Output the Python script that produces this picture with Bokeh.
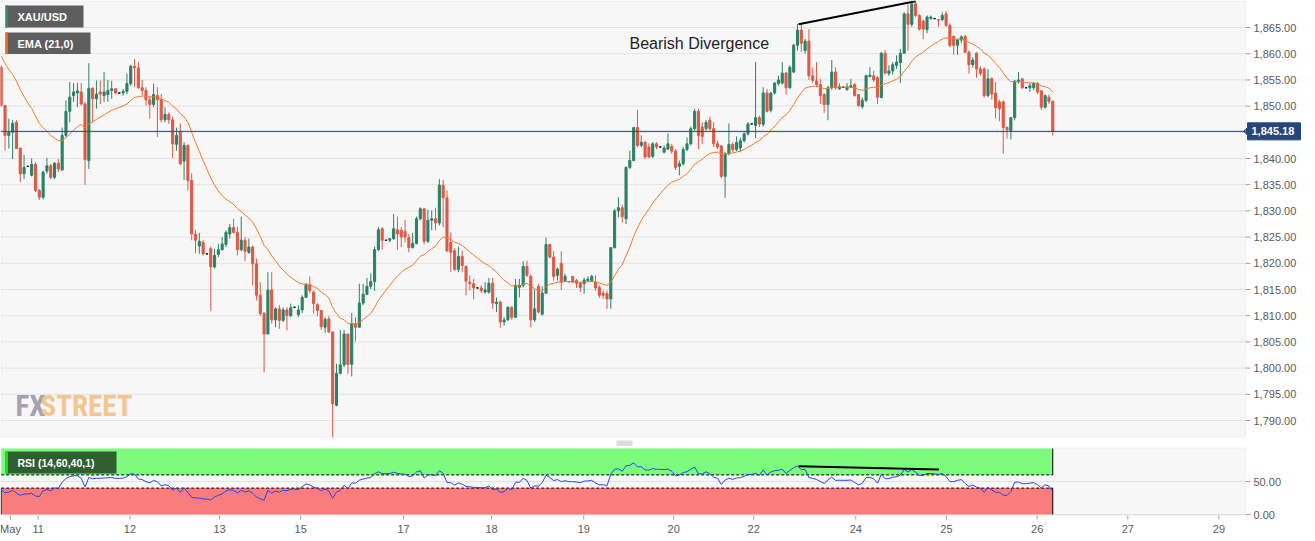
import numpy as np
from bokeh.plotting import figure
from bokeh.layouts import column
from bokeh.models import Range1d, Label, BoxAnnotation, ColumnDataSource
from bokeh.core.properties import value
from bokeh.embed import file_html
from bokeh.resources import INLINE

# ---------------- data (hourly XAU/USD candles) ----------------
opens = [
    1857.4, 1850.1, 1844.4, 1845.0, 1846.9, 1842.0, 1837.1, 1838.5, 1836.8, 1838.9,
    1833.9, 1832.6, 1837.6, 1838.6, 1836.4, 1839.1, 1837.8, 1844.4, 1849.0, 1852.0,
    1852.5, 1852.7, 1850.4, 1839.6, 1853.4, 1851.4, 1852.7, 1852.0, 1852.2, 1853.0,
    1853.3, 1852.5, 1852.5, 1852.8, 1854.3, 1857.6, 1857.3, 1853.5, 1853.0, 1851.2,
    1850.3, 1852.0, 1851.2, 1847.4, 1848.4, 1847.4, 1842.7, 1845.2, 1839.5, 1842.5,
    1835.8, 1825.6, 1823.3, 1824.0, 1821.8, 1822.8, 1819.3, 1821.7, 1822.6, 1823.6,
    1825.6, 1826.8, 1825.9, 1822.6, 1824.4, 1822.1, 1823.1, 1819.9, 1813.9, 1810.4,
    1806.5, 1814.9, 1809.2, 1811.3, 1809.1, 1811.1, 1810.0, 1811.6, 1810.2, 1811.1,
    1813.5, 1815.9, 1814.5, 1812.1, 1811.0, 1807.8, 1809.4, 1806.9, 1792.9, 1799.0,
    1800.6, 1806.5, 1800.7, 1808.5, 1807.8, 1812.4, 1814.1, 1815.6, 1816.5, 1822.6,
    1826.6, 1824.4, 1824.4, 1824.7, 1826.4, 1826.3, 1826.1, 1824.9, 1823.0, 1823.8,
    1828.5, 1830.4, 1824.2, 1828.2, 1828.5, 1827.7, 1834.9, 1832.5, 1824.0, 1822.4,
    1818.8, 1821.3, 1819.4, 1816.4, 1816.1, 1815.3, 1815.3, 1814.5, 1814.5, 1816.2,
    1812.3, 1812.6, 1808.8, 1809.2, 1811.6, 1809.7, 1815.4, 1815.8, 1819.4, 1817.5,
    1809.2, 1815.6, 1810.3, 1814.3, 1823.6, 1821.2, 1817.7, 1820.0, 1816.7, 1816.5,
    1817.5, 1816.7, 1816.2, 1816.1, 1816.7, 1816.7, 1816.4, 1815.4, 1814.3, 1814.2,
    1813.2, 1823.0, 1830.0, 1830.6, 1828.5, 1838.3, 1839.6, 1845.9, 1842.5, 1843.1,
    1842.2, 1840.4, 1842.8, 1842.2, 1841.2, 1841.8, 1842.3, 1841.4, 1838.5, 1839.0,
    1841.7, 1842.8, 1845.7, 1849.0, 1846.0, 1845.7, 1847.3, 1845.7, 1842.8, 1842.4,
    1836.6, 1840.9, 1842.7, 1841.7, 1842.0, 1843.4, 1844.7, 1846.6, 1846.3, 1847.8,
    1846.5, 1852.5, 1849.2, 1852.5, 1854.3, 1854.4, 1856.3, 1853.5, 1856.5, 1861.6,
    1864.5, 1860.6, 1862.4, 1855.8, 1854.8, 1854.1, 1852.2, 1850.3, 1853.5, 1856.5,
    1853.3, 1853.6, 1853.1, 1853.6, 1854.1, 1852.2, 1849.9, 1851.1, 1855.6, 1855.8,
    1855.4, 1851.6, 1860.1, 1856.2, 1856.7, 1857.8, 1858.3, 1860.1, 1867.6, 1865.6,
    1869.5, 1867.3, 1866.2, 1864.6, 1866.7, 1866.7, 1866.5, 1866.5, 1867.6, 1865.4,
    1863.3, 1861.6, 1862.6, 1863.3, 1860.3, 1857.9, 1860.1, 1857.1, 1857.1, 1852.0,
    1855.2, 1852.5, 1850.8, 1850.8, 1845.9, 1845.3, 1847.8, 1854.6, 1855.2, 1853.5,
    1853.5, 1853.5, 1854.3, 1852.9, 1849.8, 1851.7, 1850.9,
]
highs = [
    1857.8, 1850.2, 1847.6, 1847.3, 1847.3, 1842.0, 1840.7, 1838.6, 1840.0, 1839.3,
    1834.2, 1837.7, 1840.1, 1839.0, 1839.3, 1839.9, 1845.9, 1851.1, 1854.6, 1854.4,
    1854.4, 1854.4, 1850.8, 1858.2, 1853.6, 1854.9, 1854.9, 1856.5, 1855.0, 1854.8,
    1853.4, 1852.6, 1853.3, 1856.2, 1857.9, 1859.0, 1858.4, 1855.0, 1853.6, 1852.0,
    1854.3, 1853.6, 1852.3, 1849.8, 1848.8, 1848.0, 1845.9, 1846.7, 1843.1, 1842.7,
    1837.2, 1826.3, 1825.8, 1824.4, 1821.9, 1823.2, 1822.8, 1823.7, 1825.0, 1826.3,
    1827.5, 1828.5, 1827.0, 1828.9, 1825.0, 1824.7, 1823.4, 1820.9, 1816.4, 1810.7,
    1818.3, 1818.3, 1811.6, 1812.0, 1811.6, 1811.6, 1812.3, 1811.7, 1812.0, 1813.9,
    1816.2, 1817.5, 1814.8, 1812.4, 1811.0, 1809.7, 1809.9, 1806.9, 1800.8, 1807.3,
    1807.3, 1806.5, 1810.5, 1809.7, 1816.1, 1816.1, 1817.2, 1818.1, 1823.2, 1826.9,
    1826.9, 1824.5, 1824.7, 1829.4, 1828.9, 1826.9, 1828.3, 1825.6, 1825.8, 1828.9,
    1830.7, 1830.6, 1830.2, 1830.1, 1830.6, 1836.1, 1835.9, 1833.9, 1825.9, 1822.9,
    1823.2, 1822.4, 1819.6, 1817.7, 1817.0, 1815.4, 1815.8, 1816.4, 1817.2, 1817.2,
    1813.5, 1812.9, 1809.7, 1811.8, 1811.8, 1817.0, 1817.0, 1820.4, 1820.5, 1817.9,
    1815.0, 1816.1, 1815.6, 1824.9, 1823.7, 1822.3, 1819.2, 1822.3, 1818.0, 1816.6,
    1817.6, 1817.0, 1816.4, 1817.3, 1817.5, 1817.8, 1817.7, 1815.8, 1814.8, 1814.8,
    1823.1, 1830.4, 1832.6, 1831.2, 1838.5, 1841.5, 1846.0, 1849.3, 1844.4, 1843.4,
    1842.9, 1843.1, 1843.1, 1842.3, 1842.5, 1844.8, 1842.8, 1841.8, 1839.6, 1842.2,
    1844.0, 1846.1, 1849.5, 1849.5, 1846.9, 1847.3, 1848.0, 1846.9, 1843.4, 1842.5,
    1841.2, 1846.7, 1843.1, 1844.2, 1844.0, 1845.0, 1846.9, 1846.7, 1858.4, 1848.2,
    1853.6, 1853.3, 1852.7, 1854.6, 1855.8, 1858.4, 1856.5, 1857.8, 1861.9, 1865.7,
    1865.6, 1862.8, 1864.7, 1857.4, 1858.4, 1855.2, 1852.5, 1853.9, 1858.8, 1857.4,
    1854.3, 1853.7, 1854.4, 1855.2, 1854.4, 1852.3, 1851.6, 1856.0, 1857.4, 1856.7,
    1855.7, 1860.3, 1860.7, 1857.8, 1858.4, 1859.7, 1860.9, 1867.9, 1869.4, 1870.1,
    1870.1, 1867.5, 1866.5, 1867.3, 1867.3, 1866.8, 1866.5, 1867.9, 1868.1, 1865.8,
    1863.5, 1862.8, 1863.5, 1863.6, 1860.6, 1859.3, 1860.3, 1857.6, 1857.4, 1857.1,
    1855.5, 1854.6, 1851.2, 1851.1, 1846.1, 1847.9, 1854.9, 1856.5, 1855.4, 1853.6,
    1854.4, 1854.6, 1854.6, 1853.1, 1852.2, 1852.2, 1851.1,
]
lows = [
    1849.9, 1841.5, 1841.9, 1839.9, 1841.8, 1835.5, 1836.1, 1838.4, 1836.6, 1833.6,
    1832.1, 1832.2, 1837.1, 1836.1, 1836.1, 1837.4, 1837.6, 1844.1, 1846.9, 1850.8,
    1849.8, 1850.1, 1835.0, 1838.0, 1846.9, 1849.5, 1850.4, 1850.8, 1850.8, 1851.4,
    1852.3, 1852.4, 1852.0, 1852.3, 1853.9, 1853.6, 1853.3, 1852.0, 1850.1, 1847.6,
    1849.8, 1844.1, 1846.9, 1846.9, 1846.6, 1840.1, 1841.5, 1838.7, 1835.9, 1833.9,
    1824.4, 1821.9, 1821.8, 1821.5, 1821.7, 1810.9, 1819.0, 1821.2, 1822.4, 1823.1,
    1824.7, 1825.7, 1821.5, 1822.3, 1820.4, 1821.8, 1815.8, 1812.9, 1810.0, 1799.2,
    1806.5, 1808.5, 1807.8, 1807.5, 1808.8, 1807.2, 1809.7, 1811.5, 1809.7, 1810.5,
    1813.4, 1814.3, 1810.4, 1809.9, 1807.3, 1806.7, 1806.7, 1786.8, 1792.7, 1798.8,
    1800.2, 1798.9, 1798.4, 1805.1, 1807.8, 1812.0, 1813.9, 1815.1, 1814.7, 1822.4,
    1822.6, 1824.3, 1824.0, 1824.5, 1822.6, 1823.1, 1824.0, 1822.1, 1822.8, 1823.6,
    1828.2, 1823.6, 1823.9, 1826.3, 1826.3, 1827.2, 1826.9, 1822.1, 1818.3, 1818.6,
    1818.3, 1818.3, 1813.9, 1814.8, 1813.1, 1815.2, 1814.3, 1814.2, 1814.2, 1811.3,
    1810.7, 1807.7, 1808.1, 1809.0, 1809.2, 1809.7, 1813.5, 1815.4, 1817.4, 1807.8,
    1808.8, 1810.4, 1810.0, 1814.2, 1820.9, 1816.7, 1816.7, 1814.9, 1816.4, 1816.4,
    1816.2, 1815.3, 1814.5, 1814.2, 1816.4, 1816.4, 1814.8, 1813.4, 1813.2, 1811.3,
    1811.3, 1822.8, 1828.8, 1827.8, 1827.5, 1838.0, 1839.5, 1842.2, 1842.2, 1839.9,
    1840.1, 1840.1, 1841.8, 1842.1, 1841.0, 1841.6, 1840.9, 1837.8, 1836.8, 1838.7,
    1841.4, 1842.5, 1845.3, 1841.8, 1842.8, 1845.3, 1845.3, 1842.2, 1841.8, 1836.2,
    1832.5, 1840.6, 1841.2, 1841.4, 1841.2, 1843.1, 1844.4, 1846.5, 1843.9, 1846.0,
    1846.1, 1848.8, 1848.8, 1852.2, 1853.9, 1854.1, 1852.2, 1853.3, 1856.3, 1860.6,
    1860.3, 1860.0, 1855.0, 1854.4, 1853.6, 1850.4, 1848.7, 1847.3, 1853.1, 1853.1,
    1853.1, 1853.5, 1853.0, 1853.5, 1851.8, 1849.9, 1849.5, 1850.8, 1855.6, 1854.6,
    1850.4, 1851.6, 1856.0, 1855.8, 1856.0, 1857.1, 1854.4, 1860.0, 1860.6, 1865.1,
    1867.0, 1864.4, 1862.8, 1863.9, 1866.5, 1866.6, 1865.1, 1866.2, 1865.1, 1861.2,
    1859.8, 1859.8, 1862.0, 1860.1, 1856.2, 1857.4, 1855.4, 1855.8, 1851.6, 1851.7,
    1851.2, 1847.6, 1847.1, 1840.9, 1843.8, 1843.6, 1847.3, 1854.3, 1853.3, 1853.4,
    1852.7, 1853.0, 1852.3, 1849.3, 1849.5, 1850.4, 1844.4,
]
closes = [
    1850.1, 1844.4, 1845.0, 1846.7, 1841.9, 1837.1, 1838.3, 1838.5, 1838.9, 1833.9,
    1832.6, 1837.4, 1838.6, 1836.4, 1839.1, 1838.0, 1844.4, 1849.0, 1851.7, 1852.7,
    1852.9, 1850.4, 1839.8, 1853.4, 1851.4, 1852.3, 1852.3, 1852.7, 1853.0, 1853.3,
    1852.5, 1852.5, 1852.8, 1854.3, 1857.6, 1857.3, 1853.5, 1853.0, 1851.2, 1850.3,
    1852.2, 1851.2, 1847.4, 1848.4, 1847.4, 1842.8, 1844.4, 1839.0, 1842.5, 1835.8,
    1825.6, 1824.4, 1824.2, 1821.8, 1821.8, 1819.3, 1821.5, 1822.6, 1823.7, 1825.9,
    1826.8, 1825.9, 1822.6, 1824.4, 1822.3, 1823.1, 1819.9, 1813.9, 1810.4, 1806.5,
    1814.9, 1809.2, 1811.3, 1809.1, 1811.1, 1810.0, 1811.5, 1811.6, 1811.1, 1813.5,
    1815.9, 1814.8, 1812.3, 1811.0, 1807.9, 1809.3, 1806.9, 1793.2, 1799.0, 1800.6,
    1806.5, 1800.7, 1808.5, 1807.8, 1812.4, 1814.1, 1815.6, 1816.5, 1822.6, 1826.4,
    1824.4, 1824.4, 1824.7, 1826.6, 1825.6, 1825.0, 1825.0, 1823.0, 1823.8, 1828.5,
    1830.4, 1824.2, 1828.2, 1828.5, 1827.7, 1834.9, 1832.5, 1822.4, 1822.1, 1818.8,
    1821.3, 1819.6, 1816.6, 1816.1, 1815.3, 1815.3, 1814.8, 1814.9, 1816.2, 1812.4,
    1812.6, 1808.8, 1809.2, 1811.6, 1809.7, 1815.8, 1815.8, 1819.4, 1817.7, 1809.2,
    1811.3, 1810.7, 1814.3, 1823.6, 1821.2, 1817.5, 1818.9, 1816.4, 1817.5, 1816.5,
    1816.4, 1816.2, 1815.4, 1816.8, 1817.0, 1817.5, 1815.3, 1813.9, 1813.9, 1813.2,
    1823.0, 1830.0, 1830.6, 1828.9, 1838.3, 1839.6, 1845.9, 1842.5, 1843.1, 1840.3,
    1840.3, 1842.8, 1842.2, 1842.2, 1842.0, 1842.8, 1841.4, 1838.3, 1839.0, 1841.7,
    1842.8, 1845.7, 1849.0, 1844.4, 1844.2, 1846.9, 1845.7, 1842.8, 1842.2, 1836.6,
    1840.9, 1842.7, 1841.7, 1843.1, 1843.4, 1844.7, 1846.6, 1846.6, 1847.8, 1846.6,
    1852.5, 1849.0, 1852.5, 1854.4, 1855.0, 1856.3, 1853.5, 1857.4, 1861.6, 1864.5,
    1862.0, 1862.4, 1855.8, 1854.9, 1854.1, 1852.0, 1850.3, 1853.5, 1856.5, 1853.5,
    1853.7, 1853.6, 1853.6, 1853.9, 1852.0, 1850.1, 1851.1, 1855.8, 1855.9, 1855.0,
    1851.7, 1860.1, 1856.3, 1856.7, 1857.9, 1858.4, 1860.1, 1867.6, 1865.6, 1869.5,
    1867.3, 1864.7, 1864.7, 1867.0, 1867.0, 1866.7, 1866.4, 1867.3, 1865.4, 1861.6,
    1861.6, 1862.6, 1863.2, 1860.3, 1857.9, 1858.8, 1857.1, 1856.2, 1852.0, 1855.2,
    1852.3, 1849.7, 1849.5, 1845.9, 1845.5, 1847.8, 1854.8, 1855.0, 1853.5, 1853.5,
    1853.9, 1854.3, 1852.7, 1849.8, 1852.0, 1850.9, 1845.18,
]

# x-axis (date) ticks: candle index positions and labels
date_tick_pos = [2.44, 9.7, 33.8, 57.3, 78.6, 105.6, 128.7, 152.9, 176.5, 197.5,
                 224.3, 248.1, 271.9, 295.7, 319.6]
date_tick_labels = ["May", "11", "12", "13", "15", "17", "18", "19", "20", "22",
                    "24", "25", "26", "27", "29"]
price_ticks = [1790, 1795, 1800, 1805, 1810, 1815, 1820, 1825, 1830, 1835,
               1840, 1845, 1850, 1855, 1860, 1865]
rsi_ticks = [0, 50]
last_price = 1845.18

# indicator settings / seeds (state before the first visible candle)
ema_period = 21
ema_seed = 1860.5
rsi_period = 14
rsi_seed_gain = 1.2
rsi_seed_loss = 1.4
rsi_upper, rsi_lower = 60, 40

# drawn divergence lines (candle index, value)
div_price_x = [209.3, 240.0]
div_price_y = [1865.6, 1870.0]
div_rsi_x = [209.3, 246.1]
div_rsi_y = [73.2, 68.2]

# ---------------- indicators ----------------
n = len(closes)
idx = list(range(n))
alpha = 2.0 / (ema_period + 1)
ema = []
e = ema_seed
for c in closes:
    e = e + alpha * (c - e)
    ema.append(e)

rsi = []
ag, al = rsi_seed_gain, rsi_seed_loss
prev = opens[0]
for c in closes:
    ch = c - prev
    ag = (ag * (rsi_period - 1) + max(ch, 0)) / rsi_period
    al = (al * (rsi_period - 1) + max(-ch, 0)) / rsi_period
    rsi.append(100 - 100 / (1 + ag / al) if al > 0 else 100)
    prev = c

# ---------------- layout mapping (page pixels -> data) ----------------
PX0, DX = 0.7, 3.81
def fx(px):
    return (px - PX0) / DX
def fy(py):
    return 1865.0 - (py - 27.0) / 5.24
def ry(py):
    return (514.0 - py) / 0.66

FONT = "Liberation Sans"
WM_FONT = "Roboto Condensed, DejaVu Sans Condensed, Liberation Sans Narrow, Roboto"
GREEN = "#2b8167"
RED = "#dc5a47"
BG = "#f7f7f7"
OUTLINE = "#cdd4e3"
GRID = "#e2e2e2"
TXT = "#5a5a5a"
TICK = "#9aa0aa"
NAVY = "#27467a"
AXIS_X = 1245  # page x of the panels' right edge

xr = Range1d(fx(0), fx(1315))
XL, XR = fx(0), fx(AXIS_X)

col = [GREEN if c > o else (RED if c < o else "#111111") for o, c in zip(opens, closes)]
src = ColumnDataSource(dict(
    x=idx, h=highs, l=lows,
    top=[max(o, c) for o, c in zip(opens, closes)],
    bot=[min(o, c) for o, c in zip(opens, closes)],
    col=col))


def panel(fig, top, bottom, grid_ticks):
    fig.quad(left=[XL], right=[XR], bottom=[bottom], top=[top], fill_color=BG, line_color=None)
    k = len(grid_ticks)
    fig.segment(x0=[XL] * k, y0=grid_ticks, x1=[XR] * k, y1=grid_ticks,
                line_color=GRID, line_width=1)


def right_axis(fig, ticks, labels):
    k = len(ticks)
    fig.segment(x0=[fx(AXIS_X)] * k, y0=ticks, x1=[fx(AXIS_X + 5)] * k, y1=ticks,
                line_color=TICK, line_width=1)
    fig.text(x=[fx(AXIS_X + 8)] * k, y=ticks, text=labels, text_baseline="middle",
             text_align="left", text_font=value(FONT), text_font_size="11px",
             text_color=TXT)


def new_fig(yr, height):
    f = figure(width=1315, height=height, x_range=xr,
               y_range=Range1d(*yr), output_backend="svg", toolbar_location=None,
               x_axis_location=None, y_axis_location=None, min_border_left=0,
               min_border_right=0, min_border_top=0, min_border_bottom=0)
    f.background_fill_color = "white"
    f.border_fill_color = "white"
    f.outline_line_color = None
    f.grid.visible = False
    return f


# ---------------- main price panel ----------------
p = new_fig((fy(440), fy(0)), 440)
panel(p, fy(0.5), fy(437), price_ticks)

# watermark
p.text(x=[fx(15)], y=[fy(405)], text=["FX"], text_baseline="middle",
       text_font=value(WM_FONT), text_font_style="bold", text_font_size="29px",
       text_color="#a3a3ad")
p.text(x=[fx(40)], y=[fy(405)], text=["STREET"], text_baseline="middle",
       text_font=value(WM_FONT), text_font_style="bold", text_font_size="29px",
       text_color="#f4c590")

p.segment(x0="x", y0="h", x1="x", y1="l", line_color="col", line_width=1, source=src)
p.vbar(x="x", width=0.55, top="top", bottom="bot", fill_color="col",
       line_color="col", line_width=1, source=src)
p.line(idx, ema, line_color="#f27a25", line_width=1)
p.segment(x0=[XL], y0=[last_price], x1=[XR], y1=[last_price],
          line_color=NAVY, line_width=1)
p.line(div_price_x, div_price_y, line_color="black", line_width=2)

p.add_layout(Label(x=fx(629), y=fy(43), text="Bearish Divergence", text_baseline="middle",
                   text_font=FONT, text_font_size="16px", text_color="#222222"))

right_axis(p, price_ticks, [f"{t:,.2f}" for t in price_ticks])
p.add_layout(BoxAnnotation(left=fx(0.5), right=XR, top=fy(0.5), bottom=fy(436.5),
                           fill_alpha=0, line_color=OUTLINE, line_width=1))

# last-price tag on the axis
tag_h = 8.5 / 5.24
p.patch([fx(AXIS_X - 2), fx(AXIS_X + 3), fx(AXIS_X + 3)],
        [last_price, last_price + 0.9, last_price - 0.9], fill_color=NAVY, line_color=NAVY)
p.quad(left=[fx(AXIS_X + 2)], right=[fx(1300)], bottom=[last_price - tag_h],
       top=[last_price + tag_h], fill_color=NAVY, line_color=NAVY)
p.text(x=[fx(AXIS_X + 6)], y=[last_price], text=[f"{last_price:,.2f}"],
       text_baseline="middle", text_align="left", text_font=value(FONT),
       text_font_size="11px", text_font_style="bold", text_color="white")

# legend boxes
p.add_layout(BoxAnnotation(left=fx(5), right=fx(83), top=fy(5), bottom=fy(27),
                           fill_color="#5e5e5e", fill_alpha=1, line_color=None))
p.add_layout(BoxAnnotation(left=fx(5), right=fx(7.5), top=fy(5), bottom=fy(27),
                           fill_color="#2e8b6e", fill_alpha=1, line_color=None))
p.add_layout(Label(x=fx(17), y=fy(16.5), text="XAU/USD", text_baseline="middle",
                   text_font=FONT, text_font_size="11px", text_font_style="bold",
                   text_color="white"))
p.add_layout(BoxAnnotation(left=fx(5), right=fx(90), top=fy(32), bottom=fy(53.5),
                           fill_color="#5e5e5e", fill_alpha=1, line_color=None))
p.add_layout(BoxAnnotation(left=fx(5), right=fx(7.5), top=fy(32), bottom=fy(53.5),
                           fill_color="#ee6a10", fill_alpha=1, line_color=None))
p.add_layout(Label(x=fx(17), y=fy(43), text="EMA (21,0)", text_baseline="middle",
                   text_font=FONT, text_font_size="11px", text_font_style="bold",
                   text_color="white"))

# ---------------- RSI panel ----------------
r = new_fig((ry(541), ry(440)), 101)
panel(r, ry(447.5), ry(515), rsi_ticks)

# drag handle between the panels
r.segment(x0=[fx(616)] * 3, y0=[ry(440.5), ry(442.5), ry(444.5)],
          x1=[fx(632)] * 3, y1=[ry(440.5), ry(442.5), ry(444.5)],
          line_color="#8a8a8a", line_width=0.6)

band_l, band_r = 0.0, float(n - 1)
r.quad(left=[band_l], right=[band_r], bottom=[rsi_upper], top=[100],
       fill_color="#7dfb7d", line_color=None)
r.quad(left=[band_l], right=[band_r], bottom=[0], top=[rsi_lower],
       fill_color="#fa7c7c", line_color=None)
r.segment(x0=[band_l, band_l], y0=[rsi_upper, rsi_lower], x1=[band_r, band_r],
          y1=[rsi_upper, rsi_lower], line_color="black", line_width=1, line_dash="3 2")
r.segment(x0=[band_r, band_r, band_l], y0=[rsi_upper, 0, 0], x1=[band_r, band_r, band_l],
          y1=[100, rsi_lower, rsi_lower], line_color="black", line_width=1)
r.line(idx, rsi, line_color="#2545f5", line_width=1)
r.line(div_rsi_x, div_rsi_y, line_color="black", line_width=2)

right_axis(r, rsi_ticks, [f"{t:.2f}" for t in rsi_ticks])
r.add_layout(BoxAnnotation(left=fx(0.5), right=XR, top=ry(447.5), bottom=ry(514.5),
                           fill_alpha=0, line_color=OUTLINE, line_width=1))

# date axis below the RSI panel
kd = len(date_tick_pos)
r.segment(x0=date_tick_pos, y0=[ry(515)] * kd, x1=date_tick_pos, y1=[ry(519)] * kd,
          line_color=TICK, line_width=1)
r.text(x=date_tick_pos, y=[ry(528)] * kd, text=date_tick_labels, text_align="center",
       text_baseline="middle", text_font=value(FONT), text_font_size="11px",
       text_color=TXT)

r.add_layout(BoxAnnotation(left=fx(5), right=fx(116), top=ry(451), bottom=ry(473),
                           fill_color="#2f5f31", fill_alpha=1, line_color=None))
r.add_layout(BoxAnnotation(left=fx(5), right=fx(7.5), top=ry(451), bottom=ry(473),
                           fill_color="#1de01d", fill_alpha=1, line_color=None))
r.add_layout(Label(x=fx(17), y=ry(462), text="RSI (14,60,40,1)", text_baseline="middle",
                   text_font=FONT, text_font_size="10.5px", text_font_style="bold",
                   text_color="white"))

layout = column(p, r, spacing=0)
open("out.html", "w").write(file_html(layout, INLINE))
